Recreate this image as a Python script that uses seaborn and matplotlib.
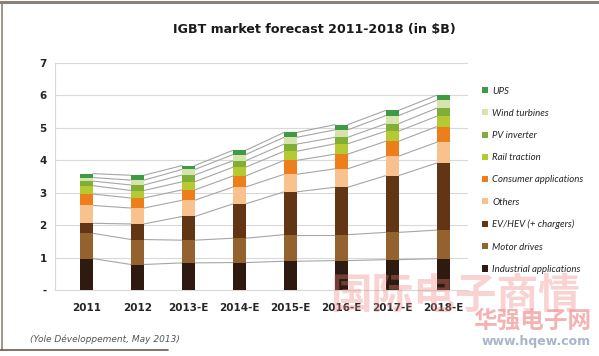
import numpy as np
import pandas as pd
import matplotlib.pyplot as plt
import seaborn as sns
from matplotlib.patches import Patch
from matplotlib.lines import Line2D

years = ["2011", "2012", "2013-E", "2014-E", "2015-E", "2016-E", "2017-E", "2018-E"]

# segment values in $B, bottom to top
industrial = [0.97, 0.79, 0.84, 0.85, 0.89, 0.91, 0.94, 0.97]
motor = [0.78, 0.77, 0.70, 0.75, 0.82, 0.80, 0.84, 0.88]
ev_hev = [0.31, 0.48, 0.73, 1.06, 1.32, 1.46, 1.75, 2.07]
others = [0.55, 0.49, 0.50, 0.52, 0.54, 0.57, 0.60, 0.64]
consumer = [0.35, 0.31, 0.32, 0.34, 0.43, 0.45, 0.46, 0.48]
rail = [0.26, 0.23, 0.25, 0.27, 0.28, 0.32, 0.31, 0.32]
pv = [0.14, 0.17, 0.21, 0.20, 0.22, 0.20, 0.23, 0.25]
wind = [0.11, 0.15, 0.17, 0.19, 0.21, 0.23, 0.25, 0.24]
ups = [0.12, 0.15, 0.12, 0.13, 0.15, 0.16, 0.16, 0.16]

# legend order (top to bottom)
segments = {
    "UPS": ups,
    "Wind turbines": wind,
    "PV inverter": pv,
    "Rail traction": rail,
    "Consumer applications": consumer,
    "Others": others,
    "EV/HEV (+ chargers)": ev_hev,
    "Motor drives": motor,
    "Industrial applications": industrial,
}
colors = ["#3f9a45", "#d5e3ad", "#80ae36", "#b5c933", "#ec7f1c",
          "#f8c28f", "#623515", "#94622f", "#2e1a0e"]
palette = dict(zip(segments.keys(), colors))

rows = []
for name, vals in segments.items():
    for i, v in enumerate(vals):
        rows.append({"pos": i, "segment": name, "value": v})
df = pd.DataFrame(rows)

sns.set_style("white")
plt.rcParams["font.family"] = ["DejaVu Sans", "Noto Sans CJK SC"]

fig = plt.figure(figsize=(5.99, 3.56), dpi=100)
ax = fig.add_axes([0.0918, 0.185, 0.689, 0.638])

bar_w = 0.25
sns.histplot(data=df, x="pos", weights="value", hue="segment",
             hue_order=list(segments.keys()), palette=palette,
             multiple="stack", discrete=True, shrink=bar_w,
             alpha=1, linewidth=0, legend=False, ax=ax, zorder=3)

# connector lines between segment tops
stack_order = list(segments.keys())[::-1]
cum = np.zeros(len(years))
for name in stack_order:
    cum = cum + np.array(segments[name])
    for i in range(len(years) - 1):
        ax.plot([i + bar_w / 2, i + 1 - bar_w / 2], [cum[i], cum[i + 1]],
                color="#a6a6a6", lw=0.8, zorder=2)

ax.set_xlim(-0.62, 7.48)
ax.set_ylim(0, 7)
ax.set_xticks(range(len(years)))
ax.set_xticklabels(years, fontsize=7.5, fontweight="bold")
ax.set_yticks(range(8))
ax.set_yticklabels(["-"] + [str(v) for v in range(1, 8)], fontsize=7.5, fontweight="bold")
ax.tick_params(axis="both", length=0, pad=6)
ax.tick_params(axis="x", pad=9)
ax.set_xlabel("")
ax.set_ylabel("")
ax.yaxis.grid(True, color="#d9d9d9", lw=0.8, zorder=0)
ax.set_axisbelow(True)
for s in ["top", "right"]:
    ax.spines[s].set_visible(False)
for s in ["left", "bottom"]:
    ax.spines[s].set_color("#d9d9d9")
    ax.spines[s].set_linewidth(0.8)

handles = [Patch(facecolor=palette[n], edgecolor="none", label=n) for n in segments]
leg = fig.legend(handles=handles, loc="upper left", bbox_to_anchor=(0.79, 0.781),
                 frameon=False,
                 prop={"family": "Lato", "style": "italic", "size": 6.9},
                 handlelength=0.6, handleheight=0.6, handletextpad=0.5,
                 labelspacing=1.38)

fig.text(0.525, 0.916, "IGBT market forecast 2011-2018 (in $B)",
         ha="center", va="center", fontsize=9.1, fontweight="bold", color="#1a1a1a")
fig.text(0.05, 0.048, "(Yole Développement, May 2013)", ha="left", va="center",
         fontsize=6.5, style="italic", color="#555555")

# watermark
fig.text(0.76, 0.17, "国际电子商情", ha="center", va="center", fontsize=30,
         fontweight="bold", color="#f08080", alpha=0.35, zorder=10,
         family=["Noto Sans CJK SC"])
fig.text(0.888, 0.1, "华强电子网", ha="center", va="center", fontsize=17,
         fontweight="bold", color="#f19999", alpha=0.75, zorder=10,
         family=["Noto Sans CJK SC"])
fig.text(0.895, 0.04, "www.hqew.com", ha="center", va="center", fontsize=9,
         fontweight="bold", color="#a9b5c9", zorder=10)

# image frame
fig.add_artist(Line2D([0, 1], [0.994, 0.994], color="#8c8178", lw=2.2))
fig.add_artist(Line2D([0.004, 0.004], [0.994, 0.017], color="#8c8178", lw=1.2))
fig.add_artist(Line2D([0.0, 0.28], [0.017, 0.017], color="#6b5a50", lw=1.2))

fig.savefig("out.png", dpi=100)
